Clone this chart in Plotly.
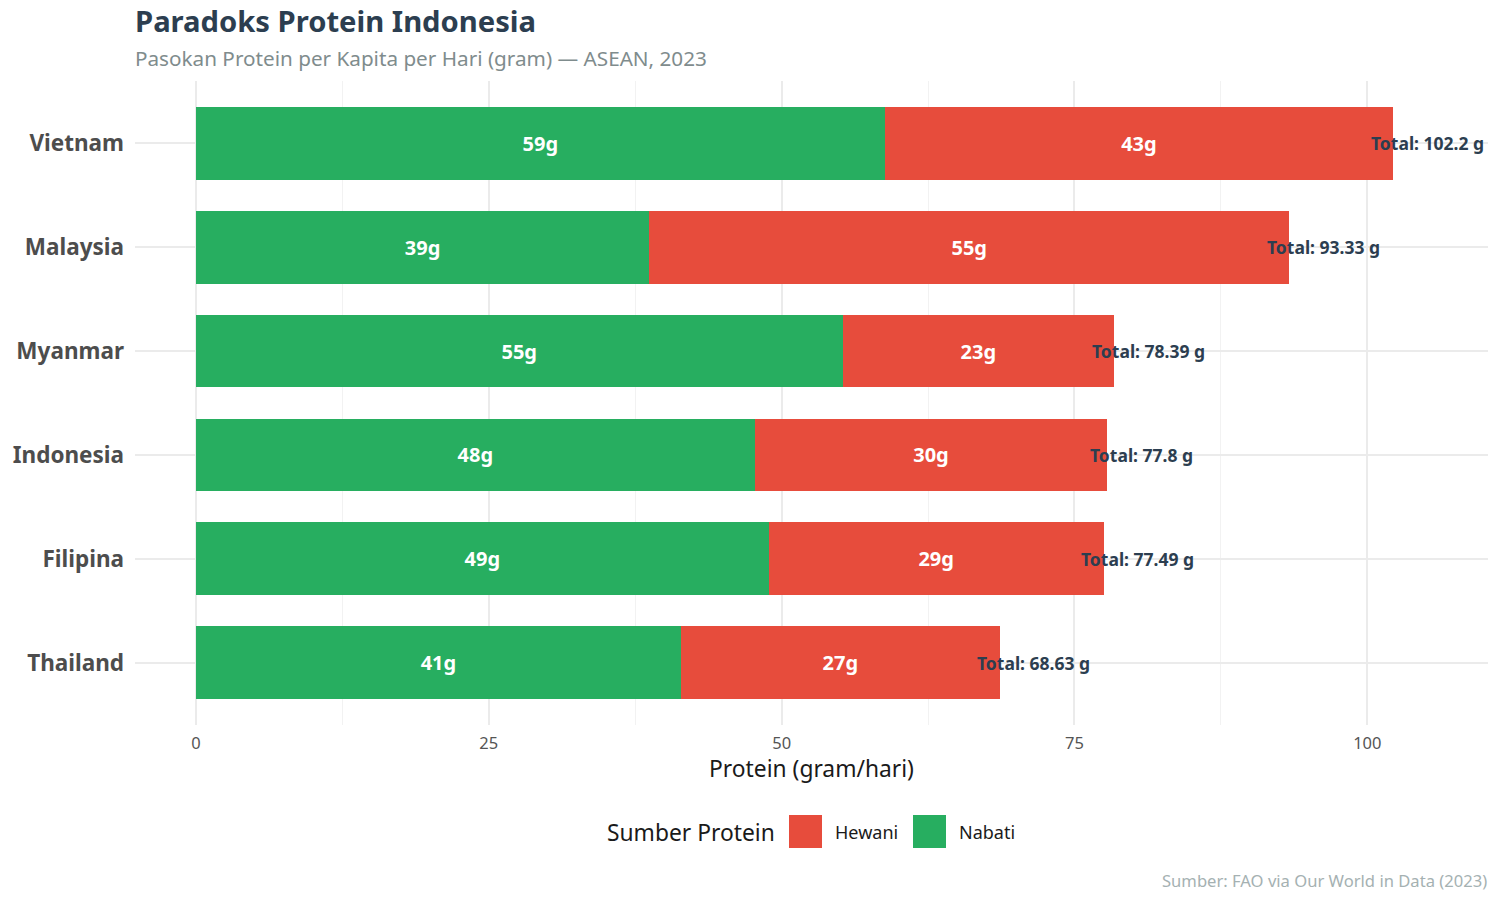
import plotly.graph_objects as go

countries = ["Thailand", "Filipina", "Indonesia", "Myanmar", "Malaysia", "Vietnam"]
nabati = [41.4, 48.9, 47.7, 55.2, 38.7, 58.8]
hewani = [27.23, 28.59, 30.1, 23.19, 54.63, 43.4]
totals = [68.63, 77.49, 77.8, 78.39, 93.33, 102.2]

GREEN = "#27ae60"
RED = "#e74c3c"
FONT = "Noto Sans"

fig = go.Figure()

fig.add_trace(go.Bar(
    y=countries, x=nabati, orientation="h", name="Nabati",
    marker=dict(color=GREEN, line=dict(width=0)),
    text=[f"{v:.0f}g" for v in nabati], textposition="inside",
    insidetextanchor="middle", constraintext="none",
    textfont=dict(family=FONT, size=20, color="white", weight="bold"),
    width=0.7, showlegend=False,
))
fig.add_trace(go.Bar(
    y=countries, x=hewani, orientation="h", name="Hewani",
    marker=dict(color=RED, line=dict(width=0)),
    text=[f"{v:.0f}g" for v in hewani], textposition="inside",
    insidetextanchor="middle", constraintext="none",
    textfont=dict(family=FONT, size=20, color="white", weight="bold"),
    width=0.7, showlegend=False,
))

# pixel helpers for paper coordinates
L, R, T, B = 135, 12, 81, 175

def px_x(p):
    return (p - L) / (1500 - L - R)

def px_y(p):
    return 1 - (p - T) / (900 - T - B)

# total labels just past the end of each bar
total_ann = [
    dict(x=t + 2.9, y=c, xref="x", yref="y", text=f"<b>Total: {t:g} g</b>",
         showarrow=False, xanchor="center", yanchor="middle",
         font=dict(family=FONT, size=17.5, color="#2c3e50"))
    for c, t in zip(countries, totals)
]

fig.update_layout(
    barmode="stack",
    width=1500, height=900,
    paper_bgcolor="white", plot_bgcolor="white",
    font=dict(family=FONT),
    margin=dict(l=L, r=R, t=T, b=B),
    title=dict(text="<b>Paradoks Protein Indonesia</b>", xref="paper", x=0,
               xanchor="left", yref="container", y=1 - 22 / 900, yanchor="middle",
               font=dict(family=FONT, size=29.2, color="#2c3e50")),
    xaxis=dict(
        range=[-5.2, 110.3], tickvals=[0, 25, 50, 75, 100],
        showgrid=True, gridcolor="#ebebeb", gridwidth=1.5,
        minor=dict(tickvals=[12.5, 37.5, 62.5, 87.5], showgrid=True,
                   gridcolor="#f2f2f2", gridwidth=1),
        zeroline=False, showline=False, ticks="", ticklabelstandoff=6,
        tickfont=dict(family=FONT, size=16.5, color="#555555"),
        title=dict(text="Protein (gram/hari)", standoff=2,
                   font=dict(family=FONT, size=22.8, color="#1a1a1a")),
    ),
    yaxis=dict(
        categoryorder="array", categoryarray=countries, range=[-0.6, 5.6],
        showgrid=True, gridcolor="#ebebeb", gridwidth=1.5,
        zeroline=False, showline=False, ticks="", ticklabelstandoff=10,
        tickfont=dict(family=FONT, size=22.5, color="#4d4d4d", weight="bold"),
    ),
)

ann = [
    dict(text="Pasokan Protein per Kapita per Hari (gram) — ASEAN, 2023",
         x=px_x(135), y=px_y(58), xanchor="left", yanchor="middle", xshift=-2,
         font=dict(family=FONT, size=20.7, color="#7f8c8d")),
    dict(text="Sumber Protein", x=px_x(775), y=px_y(832),
         xanchor="right", yanchor="middle", xshift=2,
         font=dict(family=FONT, size=22.8, color="#1a1a1a")),
    dict(text="Hewani", x=px_x(835), y=px_y(832), xanchor="left", yanchor="middle",
         xshift=-2, font=dict(family=FONT, size=18, color="#1a1a1a")),
    dict(text="Nabati", x=px_x(959), y=px_y(832), xanchor="left", yanchor="middle",
         xshift=-2, font=dict(family=FONT, size=18, color="#1a1a1a")),
    dict(text="Sumber: FAO via Our World in Data (2023)", x=px_x(1489), y=px_y(880),
         xanchor="right", yanchor="middle",
         font=dict(family=FONT, size=16.6, color="#a5b1b2")),
]
for a in ann:
    a.update(xref="paper", yref="paper", showarrow=False)

fig.update_layout(annotations=total_ann + ann, shapes=[
    dict(type="rect", xref="paper", yref="paper", line=dict(width=0),
         fillcolor=RED, x0=px_x(789), x1=px_x(822), y0=px_y(848), y1=px_y(815)),
    dict(type="rect", xref="paper", yref="paper", line=dict(width=0),
         fillcolor=GREEN, x0=px_x(913), x1=px_x(946), y0=px_y(848), y1=px_y(815)),
])

fig.write_html("out.html", config={"displayModeBar": False},
               post_script="document.body.style.margin='0';")
